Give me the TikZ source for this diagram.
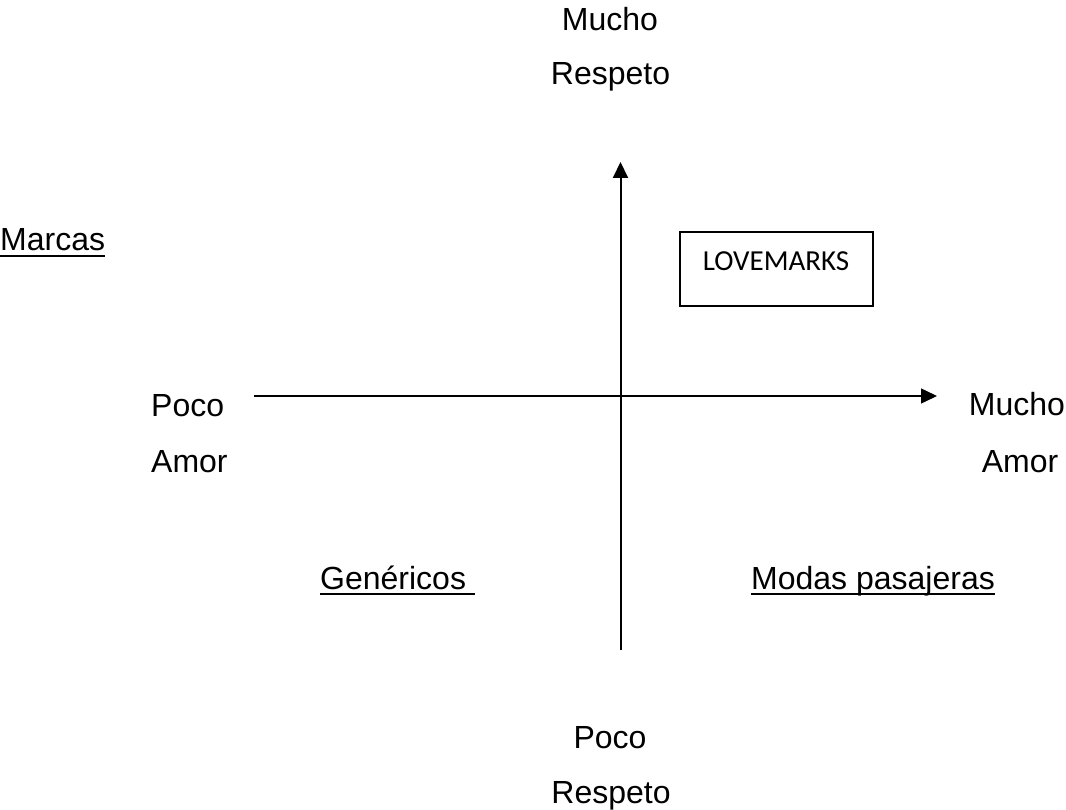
\documentclass[tikz,border=0pt]{standalone}
\usepackage{fontspec}
\setmainfont{Liberation Sans}
\newfontfamily\calibri{Carlito}
\usetikzlibrary{arrows.meta}
\newcommand\myul[1]{\leavevmode\setbox0\hbox{#1}\rlap{\vrule height -4pt depth 6pt width \wd0}\box0}
\tikzset{
  lbl/.style={inner sep=0pt, font=\fontsize{32pt}{38pt}\selectfont, anchor=base},
  axis/.style={line width=#1, -{Triangle[length=16pt,width=15pt]}},
  boxed/.style={draw, line width=1.3pt, minimum width=193pt, minimum height=74pt, inner sep=0pt}
}
\begin{document}
\begin{tikzpicture}[x=1pt,y=-1pt]
\useasboundingbox (0,0) rectangle (1066,810);
% labels
\node[lbl] (mt) at (610,31) {Mucho};
\node[lbl] (rt) at (610.5,85) {Respeto};
\node[lbl, anchor=base west] (marcas) at (0,251) {\myul{Marcas}};
\node[lbl, anchor=base west] (pl) at (151,417) {Poco};
\node[lbl, anchor=base west] (al) at (151,472) {Amor};
\node[lbl] (mr) at (1017,415) {Mucho};
\node[lbl] (ar) at (1020,472) {Amor};
\node[lbl, anchor=base west] (gen) at (320,589) {\myul{Genéricos\ }};
\node[lbl, anchor=base west] (modas) at (751,589) {\myul{Modas pasajeras}};
\node[lbl] (pb) at (610,748) {Poco};
\node[lbl] (rb) at (611,803) {Respeto};
% box
\node[boxed] (love) at (776.5,269) {};
\node[inner sep=0pt, anchor=base, font=\calibri\fontsize{29pt}{34pt}\selectfont] (lovetxt) at (776,271) {LOVEMARKS};
% axes
\coordinate (hs) at (254,396);
\coordinate (he) at (937,396);
\coordinate (vs) at (620.5,650);
\coordinate (ve) at (620.5,162);
\draw[axis=1.5pt] (hs) -- (he);
\draw[axis=2pt] (vs) -- (ve);
\end{tikzpicture}
\end{document}
